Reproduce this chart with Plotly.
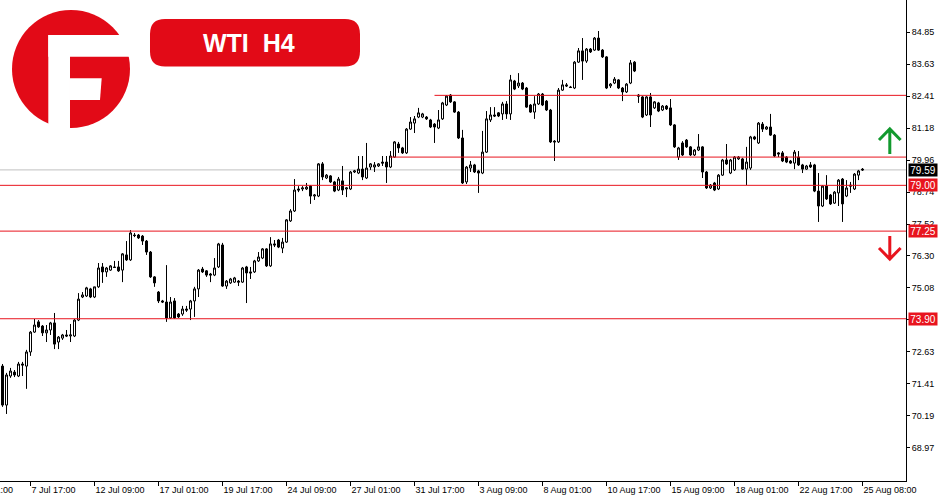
"""WTI H4 candlestick chart, MT4 style, with support / resistance levels."""

import plotly.graph_objects as go

# ---- data ------------------------------------------------------------------

opens = [
    72.09, 70.60, 71.71, 71.86, 71.71, 72.17, 72.09, 72.63, 73.39, 73.78,
    73.62, 73.36, 73.47, 73.74, 73.01, 73.16, 73.28, 73.24, 73.24, 73.85,
    74.73, 74.77, 75.04, 74.73, 75.12, 75.88, 75.69, 75.76, 75.88, 75.88,
    75.76, 76.34, 76.15, 77.10, 77.10, 77.06, 76.87, 76.45, 75.50, 74.92,
    74.58, 74.54, 73.93, 74.58, 74.08, 74.08, 74.27, 74.27, 74.58, 75.04,
    75.80, 75.73, 75.61, 75.57, 75.88, 76.72, 75.15, 75.27, 75.30, 75.34,
    75.30, 75.88, 75.69, 75.69, 76.11, 76.22, 76.57, 75.92, 76.76, 76.91,
    76.60, 76.83, 77.64, 78.02, 78.86, 78.86, 78.86, 78.97, 78.59, 78.59,
    79.82, 79.28, 79.36, 79.13, 78.82, 79.17, 78.86, 78.86, 79.51, 79.47,
    79.62, 79.28, 79.70, 79.70, 79.74, 79.89, 79.89, 79.70, 80.08, 80.58,
    80.43, 80.24, 81.15, 81.38, 81.61, 81.61, 81.61, 81.50, 81.34, 81.19,
    81.54, 82.07, 82.45, 82.19, 81.80, 80.81, 79.13, 79.66, 79.78, 79.55,
    79.47, 80.27, 81.50, 81.69, 81.77, 81.73, 82.11, 81.73, 82.99, 82.80,
    82.91, 82.72, 82.07, 81.80, 82.11, 82.49, 82.22, 81.88, 80.69, 80.66,
    82.64, 82.84, 82.76, 82.72, 83.71, 84.14, 83.75, 84.21, 84.17, 84.63,
    84.17, 83.91, 82.80, 82.91, 83.03, 82.72, 82.57, 82.91, 83.71, 82.45,
    82.38, 81.69, 82.38, 81.96, 82.15, 81.88, 82.03, 81.96, 81.31, 80.08,
    80.62, 80.73, 80.47, 80.16, 80.35, 80.47, 79.51, 78.90, 79.09, 78.86,
    79.39, 79.97, 79.47, 79.59, 80.01, 80.01, 79.62, 79.66, 80.85, 80.62,
    81.34, 81.15, 81.23, 80.92, 80.24, 80.24, 80.08, 79.93, 79.85, 80.08,
    79.78, 79.62, 79.78, 79.78, 78.78, 78.21, 78.97, 78.63, 78.32, 78.71,
    79.24, 78.59, 79.01, 78.86, 79.39, 79.62,
]
highs = [
    72.17, 71.83, 72.02, 71.94, 72.25, 72.25, 72.71, 73.43, 73.89, 73.85,
    73.66, 73.66, 73.78, 74.12, 73.24, 73.32, 73.47, 73.70, 73.89, 74.88,
    74.92, 75.12, 75.08, 75.12, 76.03, 76.03, 75.88, 75.95, 76.11, 76.11,
    76.41, 76.87, 77.29, 77.18, 77.14, 77.10, 76.91, 76.49, 75.53, 74.96,
    74.62, 75.95, 74.73, 74.69, 74.12, 74.39, 74.39, 74.62, 75.12, 75.80,
    75.88, 75.76, 75.65, 76.22, 76.80, 76.80, 75.38, 75.46, 75.50, 75.38,
    75.88, 75.92, 75.88, 76.15, 76.45, 76.60, 76.60, 77.02, 76.91, 76.95,
    76.99, 77.71, 78.09, 79.24, 78.97, 78.97, 79.09, 79.01, 78.67, 79.85,
    79.89, 79.43, 79.39, 79.17, 79.32, 79.74, 78.93, 79.55, 79.59, 80.12,
    80.12, 80.62, 79.85, 79.89, 79.85, 80.12, 80.12, 80.31, 80.69, 80.66,
    80.47, 81.19, 81.61, 81.65, 81.96, 81.77, 81.65, 81.54, 81.38, 81.88,
    82.19, 82.45, 82.49, 82.22, 81.84, 81.12, 79.74, 79.93, 79.82, 79.59,
    81.08, 81.84, 81.99, 81.99, 81.80, 82.19, 82.22, 83.22, 83.03, 83.29,
    82.95, 82.76, 82.11, 82.41, 82.53, 82.53, 82.26, 81.92, 80.73, 82.72,
    83.03, 82.91, 82.80, 83.75, 84.25, 84.63, 84.25, 84.25, 84.67, 84.90,
    84.21, 83.94, 82.91, 83.14, 83.06, 82.76, 82.91, 83.79, 83.75, 82.49,
    82.41, 82.41, 82.53, 82.22, 82.19, 82.07, 82.07, 82.30, 81.34, 80.47,
    80.69, 80.77, 80.50, 80.39, 80.96, 80.50, 79.55, 79.05, 79.13, 79.43,
    80.01, 80.58, 80.01, 80.12, 80.12, 80.05, 80.47, 80.89, 80.89, 81.42,
    81.42, 81.27, 81.73, 80.96, 80.27, 80.31, 80.12, 79.97, 80.35, 80.31,
    79.82, 79.78, 79.89, 79.82, 79.47, 79.01, 79.39, 78.67, 78.78, 79.24,
    79.28, 79.20, 79.13, 79.47, 79.59, 79.66,
]
lows = [
    70.53, 70.26, 71.64, 71.67, 71.67, 71.71, 71.22, 72.48, 73.36, 73.55,
    73.24, 73.01, 73.28, 72.74, 72.74, 73.09, 73.20, 73.01, 73.20, 73.81,
    74.69, 74.73, 74.69, 74.69, 75.08, 75.27, 75.50, 75.73, 75.84, 75.69,
    75.30, 76.11, 76.11, 77.02, 76.95, 76.72, 76.34, 75.46, 75.12, 74.50,
    74.50, 73.78, 73.89, 73.89, 73.93, 74.01, 74.16, 73.85, 73.97, 74.73,
    75.65, 75.50, 75.30, 75.53, 75.84, 75.12, 75.04, 75.23, 75.27, 75.15,
    75.27, 74.50, 75.42, 75.65, 76.07, 76.18, 75.88, 75.88, 76.64, 76.60,
    76.41, 76.80, 77.60, 77.98, 78.74, 78.78, 78.82, 78.29, 78.44, 78.55,
    79.20, 79.24, 79.09, 78.74, 78.78, 78.63, 78.55, 78.82, 79.47, 79.43,
    79.20, 79.24, 79.59, 79.51, 79.70, 79.74, 79.09, 79.66, 80.05, 80.24,
    80.20, 80.20, 81.12, 81.00, 81.57, 81.57, 81.50, 81.19, 80.62, 81.15,
    81.50, 82.03, 82.15, 81.77, 80.77, 79.05, 79.05, 79.51, 79.47, 78.71,
    79.43, 80.24, 81.42, 81.61, 81.61, 81.50, 81.54, 81.50, 82.64, 82.72,
    82.64, 81.96, 81.77, 81.54, 82.07, 82.03, 81.84, 80.62, 79.93, 80.62,
    82.61, 82.76, 82.72, 82.68, 83.68, 83.03, 83.68, 84.06, 84.14, 84.14,
    83.87, 82.68, 82.72, 82.87, 82.68, 82.22, 82.53, 82.87, 83.33, 82.15,
    81.57, 81.65, 81.23, 81.92, 81.80, 81.84, 81.88, 81.27, 80.43, 79.97,
    80.12, 80.43, 80.12, 80.12, 80.31, 79.28, 78.86, 78.86, 78.78, 78.82,
    79.36, 79.78, 79.43, 79.55, 79.97, 79.59, 79.01, 79.59, 80.73, 80.58,
    81.04, 81.12, 80.89, 80.08, 80.08, 79.89, 79.85, 79.82, 79.62, 79.74,
    79.47, 79.59, 79.66, 78.74, 77.60, 78.17, 78.44, 78.25, 78.29, 78.21,
    77.60, 78.55, 78.71, 78.82, 79.20, 79.55,
]
closes = [
    70.60, 71.75, 71.90, 71.75, 72.17, 72.13, 72.63, 73.39, 73.66, 73.59,
    73.36, 73.47, 73.74, 72.93, 73.20, 73.28, 73.24, 73.28, 73.85, 74.65,
    74.81, 75.08, 74.73, 75.12, 75.84, 75.69, 75.84, 75.92, 75.86, 75.73,
    76.38, 76.15, 77.18, 77.08, 76.99, 76.87, 76.45, 75.50, 75.27, 74.58,
    74.54, 73.93, 74.54, 73.93, 73.97, 74.27, 74.23, 74.58, 75.04, 75.76,
    75.69, 75.57, 75.57, 75.84, 76.76, 75.15, 75.34, 75.42, 75.46, 75.30,
    75.84, 75.65, 75.65, 76.11, 76.26, 76.57, 75.92, 76.76, 76.72, 76.64,
    76.83, 77.68, 78.02, 78.82, 78.82, 78.90, 78.93, 78.59, 78.63, 79.82,
    79.32, 79.39, 79.13, 78.78, 79.24, 78.82, 78.90, 79.51, 79.55, 79.62,
    79.32, 79.66, 79.82, 79.78, 79.82, 79.85, 79.70, 80.12, 80.66, 80.43,
    80.24, 81.15, 81.42, 81.54, 81.77, 81.73, 81.54, 81.23, 81.23, 81.50,
    82.15, 82.41, 82.19, 81.80, 80.81, 79.09, 79.70, 79.78, 79.51, 79.47,
    80.27, 81.54, 81.69, 81.65, 81.65, 82.11, 81.73, 83.03, 82.68, 82.91,
    82.68, 81.99, 81.80, 82.11, 82.49, 82.07, 81.88, 80.66, 80.66, 82.64,
    82.84, 82.80, 82.74, 83.71, 84.14, 83.75, 84.21, 84.10, 84.63, 84.17,
    83.91, 82.72, 82.87, 83.06, 82.72, 82.57, 82.87, 83.68, 83.37, 82.41,
    81.61, 82.38, 81.69, 82.19, 81.84, 82.03, 81.92, 81.31, 80.47, 80.43,
    80.16, 80.47, 80.16, 80.35, 80.47, 79.51, 78.90, 79.01, 78.82, 79.39,
    79.97, 79.82, 79.97, 80.08, 80.08, 79.62, 79.89, 80.85, 80.77, 81.38,
    81.15, 81.23, 80.92, 80.12, 80.20, 79.93, 79.89, 79.85, 80.27, 79.78,
    79.62, 79.74, 79.70, 78.78, 78.21, 78.97, 78.48, 78.29, 78.74, 79.20,
    78.29, 78.90, 78.97, 79.43, 79.55, 79.59,
]

# bar index of each time label on the bottom axis
time_tick_bars = [7, 23, 39, 55, 71, 87, 103, 119, 135, 151, 167, 183, 199, 215]
time_tick_text = [
    "7 Jul 17:00", "12 Jul 09:00", "17 Jul 01:00", "19 Jul 17:00",
    "24 Jul 09:00", "27 Jul 01:00", "31 Jul 17:00", "3 Aug 09:00",
    "8 Aug 01:00", "10 Aug 17:00", "15 Aug 09:00", "18 Aug 01:00",
    "22 Aug 17:00", "25 Aug 08:00",
]
price_ticks = [84.85, 83.63, 82.41, 81.18, 79.96, 78.74, 77.52, 76.30,
               75.08, 73.86, 72.63, 71.41, 70.19, 68.97]

# horizontal levels: price, first bar (None = whole chart), label on the axis
level_prices = [82.44, 80.08, 79.00, 77.25, 73.90]
level_start_bar = [108, 97, None, None, None]
level_labels = [None, None, "79.00", "77.25", "73.90"]
bid_price = 79.59

# ---- styling ---------------------------------------------------------------

RED = "#e8141e"
LOGO_RED = "#e20a17"
GREEN = "#12992e"
FONT = "Liberation Sans"
W, H = 950, 500
ML, MR, MT, MB = 0, 44, 0, 19
PLOT_W, PLOT_H = W - ML - MR, H - MT - MB
X_MIN = -0.625                      # puts candle centres on half pixels
X_MAX = X_MIN + PLOT_W / 4.0        # 4 px per bar


def _px(x):
    return x / PLOT_W


def _py(y):
    return 1 - y / PLOT_H


def _path(points, close=True):
    s = " ".join(f"{'M' if i == 0 else 'L'} {_px(x):.5f} {_py(y):.5f}"
                 for i, (x, y) in enumerate(points))
    return s + (" Z" if close else "")


def _round_rect(x0, y0, x1, y1, r):
    segs = [("M", x0 + r, y0), ("L", x1 - r, y0), ("Q", x1, y0, x1, y0 + r),
            ("L", x1, y1 - r), ("Q", x1, y1, x1 - r, y1), ("L", x0 + r, y1),
            ("Q", x0, y1, x0, y1 - r), ("L", x0, y0 + r),
            ("Q", x0, y0, x0 + r, y0)]
    out = []
    for seg in segs:
        nums = seg[1:]
        coords = [f"{_px(nums[k]):.5f} {_py(nums[k + 1]):.5f}"
                  for k in range(0, len(nums), 2)]
        out.append(seg[0] + " " + " ".join(coords))
    return " ".join(out) + " Z"


bars = list(range(len(opens)))

fig = go.Figure(go.Candlestick(
    x=bars, open=opens, high=highs, low=lows, close=closes,
    increasing=dict(fillcolor="white", line=dict(color="black", width=1)),
    decreasing=dict(fillcolor="black", line=dict(color="black", width=1)),
    whiskerwidth=0, hoverinfo="skip", showlegend=False,
))

shapes = []
# bid line
shapes.append(dict(type="line", xref="paper", x0=0, x1=1, yref="y",
                   y0=bid_price, y1=bid_price,
                   line=dict(color="#c0c0c0", width=1), layer="below"))
for price, start in zip(level_prices, level_start_bar):
    if start is None:
        shapes.append(dict(type="line", xref="paper", x0=0, x1=1, yref="y",
                           y0=price, y1=price, line=dict(color=RED, width=1)))
    else:
        shapes.append(dict(type="line", xref="x", x0=start, x1=X_MAX,
                           yref="y", y0=price, y1=price,
                           line=dict(color=RED, width=1)))

# logo
shapes.append(dict(type="circle", xref="paper", yref="paper",
                   x0=_px(12), x1=_px(130), y0=_py(128), y1=_py(10),
                   fillcolor=LOGO_RED, line=dict(width=0)))
for pts in ([(48.3, 35), (70, 35), (70, 131), (48.3, 131)],
            [(48.3, 35), (132, 35), (132, 56.7), (48.3, 56.7)],
            [(70, 78.3), (101.7, 78.3), (100, 100), (70, 100)]):
    shapes.append(dict(type="path", xref="paper", yref="paper",
                       path=_path(pts), fillcolor="white", line=dict(width=0)))
# title pill
shapes.append(dict(type="path", xref="paper", yref="paper",
                   path=_round_rect(150, 19, 360, 66.5, 15),
                   fillcolor=LOGO_RED, line=dict(width=0)))
# arrows
shapes.append(dict(type="path", xref="paper", yref="paper",
                   path=_path([(889.8, 154), (889.8, 129)], close=False) + " "
                   + _path([(879, 140), (889.8, 129), (900.6, 140)], close=False),
                   line=dict(color=GREEN, width=3)))
shapes.append(dict(type="path", xref="paper", yref="paper",
                   path=_path([(889.8, 236), (889.8, 259)], close=False) + " "
                   + _path([(879, 248), (889.8, 259), (900.6, 248)], close=False),
                   line=dict(color=RED, width=3)))

annotations = [
    dict(xref="paper", yref="paper", x=_px(249), y=_py(43),
         xanchor="center", yanchor="middle",
         text="<b>WTI\u00a0\u00a0H4</b>", showarrow=False,
         font=dict(family=FONT, size=25, color="white")),
    # first time label, cut by the left edge of the window
    dict(xref="paper", yref="paper", x=_px(-33), y=_py(490),
         xanchor="left", yanchor="middle",
         text="5 Jul 01:00", showarrow=False,
         font=dict(family=FONT, size=9, color="black")),
]
label_items = [(bid_price, f"{bid_price:.2f}", "black")]
label_items += [(p, t, RED) for p, t in zip(level_prices, level_labels) if t]
for price, text, bg in label_items:
    annotations.append(dict(
        xref="paper", x=1, xanchor="left", xshift=2,
        yref="y", y=price, yanchor="middle",
        text=text, showarrow=False, bgcolor=bg, width=27, height=11,
        borderpad=0.5, font=dict(family=FONT, size=10, color="white")))

fig.update_layout(
    width=W, height=H,
    margin=dict(l=ML, r=MR, t=MT, b=MB),
    paper_bgcolor="white", plot_bgcolor="white",
    font=dict(family=FONT, size=9, color="black"),
    shapes=shapes, annotations=annotations,
    showlegend=False,
    boxgap=0.5, boxgroupgap=0,
    xaxis=dict(
        range=[X_MIN, X_MAX], rangeslider=dict(visible=False),
        tickvals=time_tick_bars, ticktext=time_tick_text,
        ticks="outside", ticklen=4, tickcolor="black", tickwidth=1,
        ticklabelposition="outside right",
        showline=True, linecolor="black", linewidth=1,
        showgrid=False, zeroline=False, fixedrange=True,
    ),
    yaxis=dict(
        range=[67.697, 86.085], side="right",
        tickvals=price_ticks, ticktext=[f"{v:.2f}" for v in price_ticks],
        ticks="outside", ticklen=3, tickcolor="black", tickwidth=1,
        showline=True, linecolor="black", linewidth=1,
        showgrid=False, zeroline=False, fixedrange=True,
    ),
)

fig.write_html("out.html", config=dict(displayModeBar=False),
               post_script="document.body.style.margin = '0';")
